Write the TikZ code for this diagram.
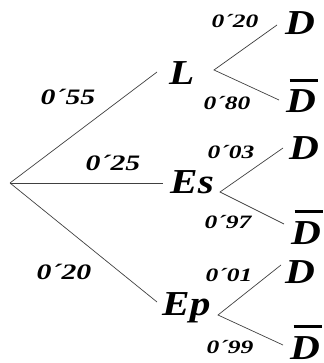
\documentclass[tikz,border=0pt]{standalone}
\usepackage{fontspec}
\usepackage{graphicx}
\newfontfamily\bigf{Liberation Serif}[FakeStretch=1.18]
\newfontfamily\probf{Liberation Serif}[FakeStretch=1.35]
\newcommand\BigT[1]{{\fontsize{35}{35}\selectfont\bigf\bfseries\itshape #1}}
\newcommand\ProbT[2]{\scalebox{#1}{\fontsize{35}{35}\selectfont\probf\bfseries\itshape #2}}
\newcommand\DBar{\rlap{\hspace{0.1em}\rule[0.89em]{0.8em}{0.085em}}D}
\begin{document}
\begin{tikzpicture}[x=1pt,y=-1pt,
  branch/.style={draw=black!75,line width=0.7pt},
  big/.style={inner sep=0pt,anchor=base west},
  prob/.style={inner sep=0pt,anchor=center}]
\useasboundingbox (0,0) rectangle (323,363);
% coordinates
\coordinate (r) at (10,183);
\coordinate (Li) at (157,72);
\coordinate (Esi) at (163,183);
\coordinate (Epi) at (157,302);
\coordinate (Lo) at (214,70);
\coordinate (Eso) at (220,192);
\coordinate (Epo) at (218,315);
\coordinate (D1i) at (277,25);
\coordinate (B1i) at (279,100);
\coordinate (D2i) at (283,148);
\coordinate (B2i) at (284,224);
\coordinate (D3i) at (281,265);
\coordinate (B3i) at (283,345);
% texts
\node[big] (L) at (169,85) {\BigT{L}};
\node[big] (Es) at (170,193) {\BigT{Es}};
\node[big] (Ep) at (162,315) {\BigT{Ep}};
\node[big] (D1) at (285,35) {\BigT{D}};
\node[big] (B1) at (286,113) {\BigT{\DBar}};
\node[big] (D2) at (289,160) {\BigT{D}};
\node[big] (B2) at (291,244) {\BigT{\DBar}};
\node[big] (D3) at (285,283) {\BigT{D}};
\node[big] (B3) at (290,359) {\BigT{\DBar}};
\node[prob] (p55) at (68,97) {\ProbT{0.63}{0´55}};
\node[prob] (p25) at (113,163) {\ProbT{0.63}{0´25}};
\node[prob] (p20b) at (64,272) {\ProbT{0.63}{0´20}};
\node[prob] (p20) at (235,21) {\ProbT{0.54}{0´20}};
\node[prob] (p80) at (227,103) {\ProbT{0.54}{0´80}};
\node[prob] (p03) at (231,152) {\ProbT{0.54}{0´03}};
\node[prob] (p97) at (228,222) {\ProbT{0.54}{0´97}};
\node[prob] (p01) at (229,275) {\ProbT{0.54}{0´01}};
\node[prob] (p99) at (230,347) {\ProbT{0.54}{0´99}};
% branches
\draw[branch] (r) -- (Li);
\draw[branch] (r) -- (Esi);
\draw[branch] (r) -- (Epi);
\draw[branch] (D1i) -- (Lo) -- (B1i);
\draw[branch] (D2i) -- (Eso) -- (B2i);
\draw[branch] (D3i) -- (Epo) -- (B3i);
\end{tikzpicture}
\end{document}
